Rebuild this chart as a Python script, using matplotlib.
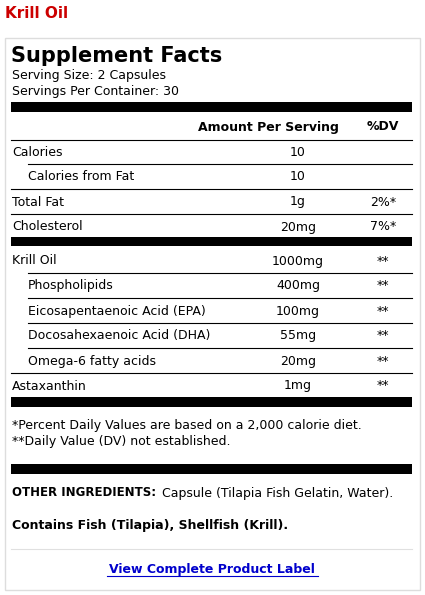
import matplotlib
matplotlib.use("Agg")
import matplotlib.pyplot as plt
from matplotlib.patches import Rectangle

title = "Krill Oil"
serving_size = "Serving Size: 2 Capsules"
servings = "Servings Per Container: 30"
rows1 = [("Calories", "10", "", False), ("Calories from Fat", "10", "", True),
         ("Total Fat", "1g", "2%*", False), ("Cholesterol", "20mg", "7%*", False)]
rows2 = [("Krill Oil", "1000mg", "**", False), ("Phospholipids", "400mg", "**", True),
         ("Eicosapentaenoic Acid (EPA)", "100mg", "**", True),
         ("Docosahexaenoic Acid (DHA)", "55mg", "**", True),
         ("Omega-6 fatty acids", "20mg", "**", True), ("Astaxanthin", "1mg", "**", False)]
foot = ["*Percent Daily Values are based on a 2,000 calorie diet.",
        "**Daily Value (DV) not established."]

fig = plt.figure(figsize=(4.25, 5.95), dpi=100)
ax = fig.add_axes([0, 0, 1, 1])
ax.set_xlim(0, 425); ax.set_ylim(595, 0); ax.axis("off")
fs = 9
ax.text(5, 14, title, color="#cc0000", fontsize=11, weight="bold", va="center")
ax.add_patch(Rectangle((5, 38), 415, 552, fill=False, ec="#dddddd", lw=1))
ax.text(11, 56, "Supplement Facts", fontsize=15, weight="bold", va="center")
ax.text(12, 75, serving_size, fontsize=fs, va="center")
ax.text(12, 91, servings, fontsize=fs, va="center")

def bar(y0, y1):
    ax.add_patch(Rectangle((11, y0), 401, y1 - y0, color="black", lw=0))

def line(y, x0=11):
    ax.plot([x0, 412], [y, y], color="black", lw=0.8)

bar(102, 112)
ax.text(268, 127, "Amount Per Serving", fontsize=fs, weight="bold", ha="center", va="center")
ax.text(383, 127, "%DV", fontsize=fs, weight="bold", ha="center", va="center")
line(140)

def block(rows, y, step=25):
    for i, (n, v, d, ind) in enumerate(rows):
        yy = y + i * step
        ax.text(28 if ind else 12, yy, n, fontsize=fs, va="center")
        ax.text(298, yy, v, fontsize=fs, ha="center", va="center")
        ax.text(383, yy, d, fontsize=fs, ha="center", va="center")
        if i < len(rows) - 1:
            nxt = rows[i + 1][3]
            line(yy + 12, 28 if nxt else 11)

block(rows1, 152)
bar(237, 246)
block(rows2, 261)
bar(397, 407)
ax.text(12, 426, foot[0], fontsize=fs, va="center")
ax.text(12, 442, foot[1], fontsize=fs, va="center")
bar(464, 474)
ax.text(12, 493, "OTHER INGREDIENTS:", fontsize=8.5, weight="bold", va="center")
ax.text(162, 493, "Capsule (Tilapia Fish Gelatin, Water).", fontsize=fs, va="center")
ax.text(12, 526, "Contains Fish (Tilapia), Shellfish (Krill).", fontsize=fs, weight="bold", va="center")
ax.plot([11, 412], [549, 549], color="#e0e0e0", lw=0.8)
ax.text(212, 569, "View Complete Product Label", fontsize=fs, weight="bold",
        color="#0000cc", ha="center", va="center")
ax.plot([107, 318], [576, 576], color="#0000cc", lw=0.8)
fig.savefig("out.png", dpi=100)
